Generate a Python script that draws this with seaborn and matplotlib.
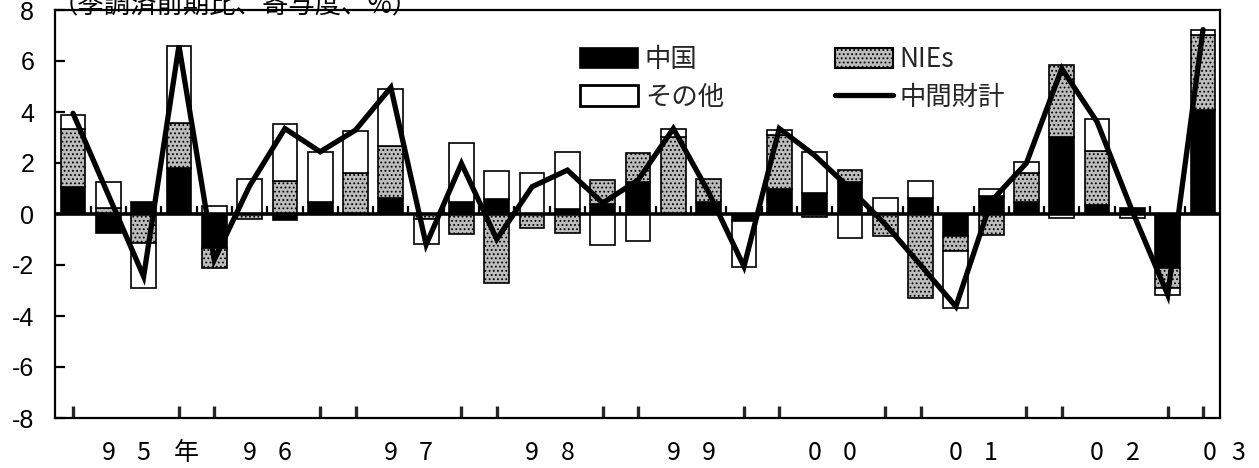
import numpy as np
import matplotlib
matplotlib.use("Agg")
import matplotlib.pyplot as plt
import matplotlib.transforms as mtransforms
from matplotlib.patches import Patch
from matplotlib.lines import Line2D
from matplotlib.font_manager import FontProperties
import seaborn as sns

# ---------------- data (quarterly, 1995Q1 - 2003Q1) ----------------
years = ["95", "96", "97", "98", "99", "00", "01", "02", "03"]
quarters = [y + "Q" + str(q) for y in years for q in range(1, 5)][:33]

china = [1.07, -0.75, 0.46, 1.81, -1.35, 0.00, -0.24, 0.46, 0.00, 0.64, 0.00,
         0.48, 0.57, 0.00, 0.20, 0.39, 1.27, 0.00, 0.48, -0.26, 1.00, 0.81,
         1.27, 0.00, 0.64, -0.85, 0.72, 0.48, 3.03, 0.35, 0.25, -2.13, 4.07]
nies = [2.28, 0.25, -1.15, 1.74, -0.78, -0.18, 1.29, 0.00, 1.59, 2.03, -0.20,
        -0.80, -2.71, -0.56, -0.76, 0.94, 1.11, 3.03, 0.88, 0.00, 2.09, -0.10,
        0.45, -0.86, -3.28, -0.59, -0.82, 1.11, 2.80, 2.12, 0.00, -0.78, 2.96]
other = [0.55, 1.01, -1.75, 3.04, 0.33, 1.37, 2.22, 1.98, 1.67, 2.22, -0.99,
         2.29, 1.13, 1.59, 2.24, -1.21, -1.05, 0.32, 0.00, -1.80, 0.22, 1.63,
         -0.95, 0.64, 0.65, -2.25, 0.26, 0.46, -0.17, 1.24, -0.17, -0.26, 0.17]
total = [3.95, 0.75, -2.45, 6.60, -1.80, 1.10, 3.35, 2.44, 3.29, 4.96, -1.20,
         1.98, -0.99, 1.07, 1.72, 0.43, 1.33, 3.35, 0.85, -2.06, 3.35, 2.30,
         1.00, -0.40, -2.00, -3.63, 0.50, 2.00, 5.70, 3.61, 0.10, -3.17, 7.23]

series_names = ["中国", "NIEs", "その他"]
line_name = "中間財計"
title = "（季調済前期比、寄与度、%）"

# x-axis label characters and their category positions
xlab_text = ["9", "5", "年", "9", "6", "9", "7", "9", "8", "9", "9",
             "0", "0", "0", "1", "0", "2", "0", "3"]
xlab_pos = [1, 2, 3.2, 5, 6, 9, 10, 13, 14, 17, 18, 21, 22, 25, 26, 29, 30, 32.2, 33]

# ---------------- style ----------------
sns.set_theme(style="white")
plt.rcParams["font.family"] = ["Liberation Sans", "Noto Sans CJK JP", "DejaVu Sans"]
plt.rcParams["axes.unicode_minus"] = False
plt.rcParams["hatch.linewidth"] = 0.8
cjk = "Noto Sans CJK JP"

W, H = 1259, 468
fig = plt.figure(figsize=(W / 100, H / 100), dpi=100)
ax = fig.add_axes([55 / W, 50 / H, 1165 / W, 408 / H])

x = np.arange(len(quarters))
nies_face = "#bcbcbc"
styles = [dict(facecolor="black"),
          dict(facecolor=nies_face, hatch="...."),
          dict(facecolor="white")]

pos_base = np.zeros(len(x))
neg_base = np.zeros(len(x))
for vals, st in zip([china, nies, other], styles):
    v = np.array(vals)
    bottom = np.where(v >= 0, pos_base, neg_base)
    m = v != 0
    ax.bar(x[m], v[m], width=0.7, bottom=bottom[m], edgecolor="black",
           linewidth=1.2, zorder=2, **st)
    pos_base += np.clip(v, 0, None)
    neg_base += np.clip(v, None, 0)

# zero line with small category ticks
ax.axhline(0, color="black", lw=2.6, zorder=3)
ax.vlines(x[:-1] + 0.5, 0, 0.32, color="black", lw=1.6, zorder=3)

# total line
sns.lineplot(x=x, y=total, color="black", linewidth=3.8, ax=ax, zorder=4,
             legend=False, sort=False)
ax.lines[-1].set_solid_joinstyle("miter")

ax.set_xlim(-0.51, 32.48)
ax.set_ylim(-8, 8)
ax.set_yticks(range(-8, 9, 2))
ax.tick_params(axis="y", direction="in", length=7, width=1.6, pad=15,
               labelsize=18, colors="black", left=True)
for lab in ax.get_yticklabels():
    lab.set_fontfamily("Liberation Sans")

tick_pos = [i for i, q in enumerate(quarters) if q.endswith("Q1") or q.endswith("Q4")]
ax.set_xticks(tick_pos)
ax.set_xticklabels([])
ax.tick_params(axis="x", direction="in", length=9, width=2.4, bottom=True)
ax.set_xlabel("")
ax.set_ylabel("")
for sp in ax.spines.values():
    sp.set_visible(True)
    sp.set_color("black")
    sp.set_linewidth(1.6)

trans = mtransforms.blended_transform_factory(ax.transData, ax.transAxes)
for p, s in zip(xlab_pos, xlab_text):
    ax.text(p, -0.086, s, transform=trans, ha="center", va="center",
            fontsize=18, family=cjk, clip_on=False, color="black")

fig.text(52 / W, 1 - 13 / H, title, va="baseline", ha="left", fontsize=19,
         family=cjk, color="black")

handles = [Patch(facecolor="black", edgecolor="black", lw=1.2),
           Patch(facecolor="white", edgecolor="black", lw=2.0),
           Patch(facecolor=nies_face, edgecolor="black", hatch="....", lw=1.5),
           Line2D([0], [0], color="black", lw=3.8)]
labels = [series_names[0], series_names[2], series_names[1], line_name]
ax.legend(handles=handles, labels=labels, ncol=2, frameon=False,
          loc="upper left", bbox_to_anchor=(567 / W, 1 - 33 / H),
          bbox_transform=fig.transFigure, borderpad=0, handlelength=2.2,
          handleheight=0.8, handletextpad=0.25, columnspacing=4.2,
          labelspacing=0.4, prop=FontProperties(family=cjk, size=19))

fig.savefig("out.png", dpi=100, facecolor="white")
